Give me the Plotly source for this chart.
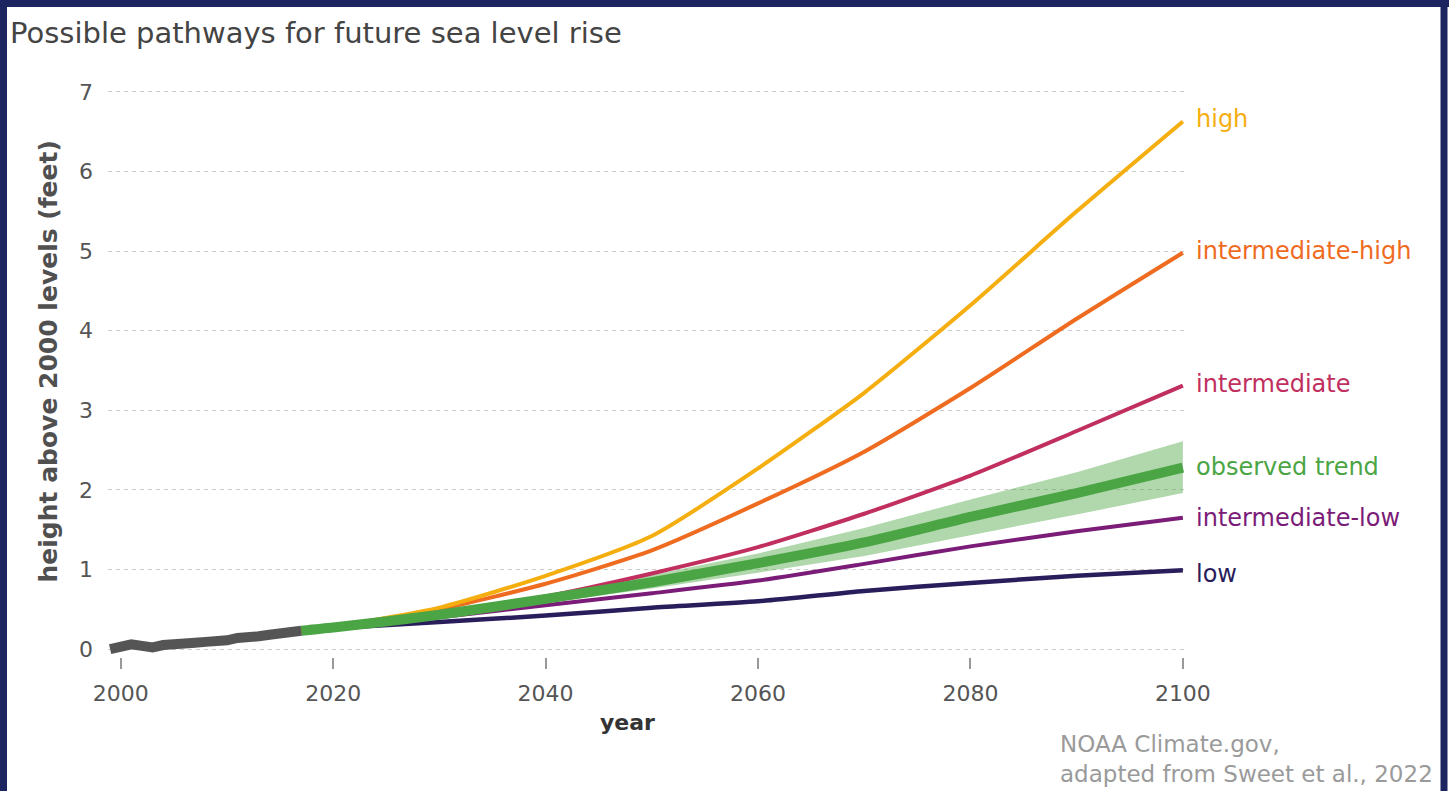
import plotly.graph_objects as go

# ---------------- data ----------------
obs_years = list(range(1999, 2018))
obs_values = [0.0, 0.03, 0.06, 0.04, 0.02, 0.05, 0.07, 0.06, 0.08, 0.09,
              0.09, 0.11, 0.14, 0.14, 0.16, 0.18, 0.19, 0.22, 0.23]

proj_years = [2017, 2020, 2030, 2040, 2050, 2060, 2070, 2080, 2090, 2100]
high = [0.23, 0.28, 0.52, 0.92, 1.42, 2.27, 3.22, 4.32, 5.50, 6.63]
intermediate_high = [0.23, 0.28, 0.50, 0.82, 1.24, 1.83, 2.48, 3.28, 4.15, 4.98]
intermediate = [0.23, 0.27, 0.45, 0.66, 0.95, 1.28, 1.70, 2.18, 2.74, 3.31]
observed_trend = [0.23, 0.27, 0.43, 0.63, 0.84, 1.08, 1.34, 1.66, 1.96, 2.28]
trend_upper = [0.23, 0.28, 0.46, 0.68, 0.93, 1.20, 1.52, 1.88, 2.22, 2.61]
trend_lower = [0.23, 0.26, 0.40, 0.58, 0.76, 0.96, 1.17, 1.43, 1.69, 1.96]
intermediate_low = [0.23, 0.27, 0.40, 0.55, 0.70, 0.86, 1.07, 1.29, 1.48, 1.65]
low = [0.23, 0.26, 0.34, 0.42, 0.52, 0.60, 0.73, 0.83, 0.92, 0.99]

x_ticks = [2000, 2020, 2040, 2060, 2080, 2100]
y_ticks = [0, 1, 2, 3, 4, 5, 6, 7]

# ---------------- layout geometry ----------------
W, H = 1449, 791
ML, MR, MT, MB = 108, 264, 88, 134
PW, PH = W - ML - MR, H - MT - MB


def px(x):
    return (x - ML) / PW


def py(y):
    return (H - MB - y) / PH


FONT = "DejaVu Sans"

fig = go.Figure()

# observed trend band
fig.add_trace(go.Scatter(x=proj_years, y=trend_lower, mode="lines",
                         line=dict(width=0, color="rgba(0,0,0,0)"),
                         hoverinfo="skip", showlegend=False))
fig.add_trace(go.Scatter(x=proj_years, y=trend_upper, mode="lines",
                         line=dict(width=0, color="rgba(0,0,0,0)"),
                         fill="tonexty", fillcolor="rgba(80,168,72,0.45)",
                         hoverinfo="skip", showlegend=False))

series = [
    ("low", low, "#2A1D5C", 4.5),
    ("intermediate-low", intermediate_low, "#7A1C78", 4),
    ("intermediate", intermediate, "#C02F5E", 4),
    ("intermediate-high", intermediate_high, "#EE6B1F", 4),
    ("high", high, "#F5AE10", 4),
]
for name, vals, col, w in series:
    fig.add_trace(go.Scatter(x=proj_years, y=vals, mode="lines", name=name,
                             line=dict(color=col, width=w, shape="spline", smoothing=0.6),
                             showlegend=False))

fig.add_trace(go.Scatter(x=proj_years, y=observed_trend, mode="lines",
                         name="observed trend",
                         line=dict(color="#4CA545", width=10, shape="spline", smoothing=0.6),
                         showlegend=False))

fig.add_trace(go.Scatter(x=obs_years, y=obs_values, mode="lines", name="observed",
                         line=dict(color="#555555", width=10), showlegend=False))

# end labels
labels = [
    ("high", high[-1], "#F5AE10", 2),
    ("intermediate-high", intermediate_high[-1], "#EE6B1F", 2),
    ("intermediate", intermediate[-1], "#C02F5E", 2),
    ("observed trend", observed_trend[-1], "#4CA545", 1),
    ("intermediate-low", intermediate_low[-1], "#7A1C78", 0),
    ("low", low[-1], "#2A1D5C", -4),
]
for text, yv, col, ys in labels:
    fig.add_annotation(x=proj_years[-1], y=yv, xref="x", yref="y", text=text,
                       showarrow=False, xanchor="left", yanchor="middle",
                       xshift=11, yshift=ys,
                       font=dict(family=FONT, size=24, color=col))

# axis titles
fig.add_annotation(x=px(627), y=py(737), xref="paper", yref="paper",
                   text="<b>year</b>", showarrow=False,
                   font=dict(family=FONT, size=22, color="#333333"))
fig.add_annotation(x=px(31), y=py(362), xref="paper", yref="paper",
                   text="<b>height above 2000 levels (feet)</b>", showarrow=False,
                   textangle=-90,
                   font=dict(family=FONT, size=25, color="#505050"))

# credit
fig.add_annotation(x=px(1058), y=py(759), xref="paper", yref="paper",
                   text="NOAA Climate.gov,<br>adapted from Sweet et al., 2022",
                   showarrow=False, xanchor="left", yanchor="middle", align="left",
                   font=dict(family=FONT, size=23, color="#9a9a9a"))

# frame border
border = "#1D2561"
for x0, y0, x1, y1 in [(0, 3.5, W, 3.5), (3.5, 0, 3.5, H + 10), (1444, 0, 1444, H + 10)]:
    fig.add_shape(type="line", xref="paper", yref="paper",
                  x0=px(x0), y0=py(y0), x1=px(x1), y1=py(y1),
                  line=dict(color=border, width=7), layer="above")

fig.update_layout(
    width=W, height=H,
    margin=dict(l=ML, r=MR, t=MT, b=MB),
    paper_bgcolor="white", plot_bgcolor="white",
    font=dict(family=FONT, color="#555555"),
    title=dict(text="Possible pathways for future sea level rise",
               x=10 / W, xanchor="left", xref="container",
               y=1 - 33 / H, yanchor="middle", yref="container",
               font=dict(family=FONT, size=29, color="#444444")),
    showlegend=False,
)
fig.update_xaxes(range=[1998.8, 2100.2], tickvals=x_ticks,
                 showgrid=False, zeroline=False, showline=False,
                 ticks="outside", ticklen=11, tickwidth=1.5, tickcolor="#999999",
                 ticklabelstandoff=6,
                 tickfont=dict(family=FONT, size=22, color="#555555"))
fig.update_yaxes(range=[-0.1, 7.05], tickvals=y_ticks,
                 showgrid=True, gridcolor="#cccccc", gridwidth=1, griddash="4px,4px",
                 zeroline=False, showline=False, ticks="",
                 ticklabelstandoff=14,
                 tickfont=dict(family=FONT, size=22, color="#555555"))

fig.write_html("out.html", config={"displayModeBar": False},
               post_script="document.body.style.margin='0';document.body.style.overflow='hidden';")
